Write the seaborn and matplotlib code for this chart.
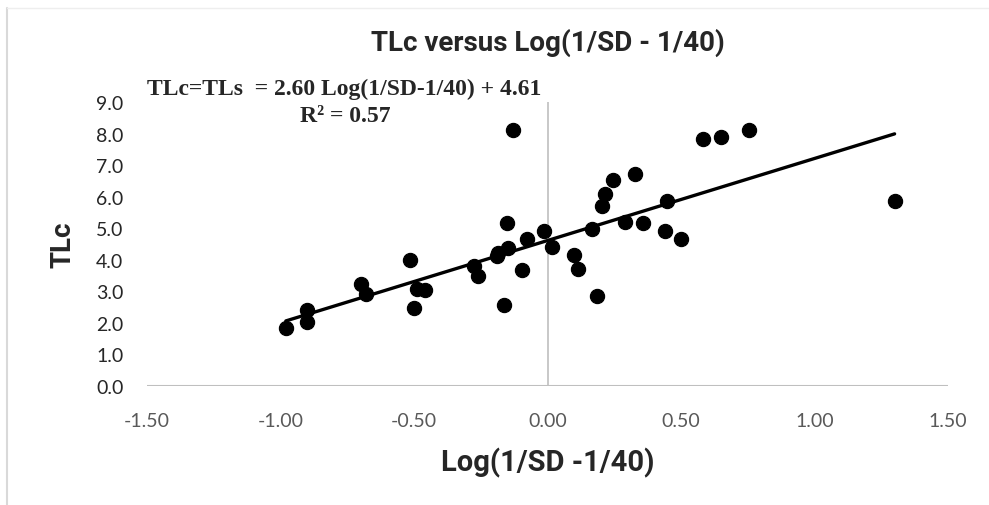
import numpy as np
import pandas as pd
import matplotlib
matplotlib.use("Agg")
import matplotlib.pyplot as plt
import seaborn as sns
from matplotlib.lines import Line2D

# values
log_sd = [-0.98, -0.90, -0.90, -0.70, -0.68, -0.515, -0.50, -0.49, -0.46,
          -0.275, -0.26, -0.19, -0.185, -0.148, -0.152, -0.164, -0.128,
          -0.097, -0.075, -0.013, 0.016, 0.099, 0.113, 0.165, 0.187,
          0.203, 0.217, 0.247, 0.292, 0.327, 0.359, 0.441, 0.449, 0.501,
          0.584, 0.649, 0.755, 1.30]
tlc = [1.84, 2.02, 2.42, 3.23, 2.90, 3.98, 2.47, 3.06, 3.04,
       3.81, 3.48, 4.11, 4.22, 4.36, 5.17, 2.58, 8.10,
       3.67, 4.66, 4.92, 4.42, 4.16, 3.72, 4.97, 2.86,
       5.72, 6.10, 6.54, 5.21, 6.72, 5.17, 4.90, 5.85, 4.66,
       7.84, 7.89, 8.10, 5.85]

slope = 2.60
intercept = 4.61
r_squared = 0.57

x_ticks = [-1.5, -1.0, -0.5, 0.0, 0.5, 1.0, 1.5]
y_ticks = [0, 1, 2, 3, 4, 5, 6, 7, 8, 9]

df = pd.DataFrame({"log_sd": log_sd, "tlc": tlc})
fit = pd.DataFrame({"log_sd": [df["log_sd"].min(), df["log_sd"].max()]})
fit["tlc"] = slope * fit["log_sd"] + intercept

sns.set_style("white")
plt.rcParams["axes.unicode_minus"] = False
plt.rcParams["font.family"] = ["Lato", "DejaVu Sans"]

W, H = 989, 506
fig = plt.figure(figsize=(W / 100, H / 100), dpi=100)
ax = fig.add_axes([147 / W, 1 - 387 / H, (948 - 147) / W, (387 - 103) / H])

ax.axvline(0, color="#bfbfbf", lw=1.2, zorder=0)
ax.axhline(0, color="#bfbfbf", lw=1.5, zorder=0)

sns.lineplot(data=fit, x="log_sd", y="tlc", color="black", lw=2.4, ax=ax, zorder=2)
sns.scatterplot(data=df, x="log_sd", y="tlc", color="black", edgecolor="black",
                s=105, ax=ax, zorder=3)

ax.set_xlim(-1.5, 1.5)
ax.set_ylim(0, 9)
ax.set_xticks(x_ticks)
ax.set_xticklabels([f"{v:.2f}" for v in x_ticks], color="#595959", fontsize=14)
ax.set_yticks(y_ticks)
ax.set_yticklabels([f"{v:.1f}" for v in y_ticks], color="#262626", fontsize=14)
ax.tick_params(axis="both", length=0)
ax.tick_params(axis="x", pad=19)
ax.tick_params(axis="y", pad=17)
for sp in ax.spines.values():
    sp.set_visible(False)

bold_font = ["Roboto", "DejaVu Sans"]
ax.set_xlabel("Log(1/SD -1/40)", fontsize=21, fontweight="bold", family=bold_font)
ax.xaxis.label.set_va("center")
ax.xaxis.set_label_coords(0.5, (387 - 463) / 284)
ax.set_ylabel("TLc", fontsize=20, fontweight="bold", family=bold_font)
ax.yaxis.label.set_va("center")
ax.yaxis.label.set_ha("center")
ax.yaxis.set_label_coords((63 - 147) / 801, 0.5)

fig.text(548 / W, 1 - 43 / H, "TLc versus Log(1/SD - 1/40)", ha="center", va="center",
         fontsize=20, fontweight="bold", family=bold_font)

fig.text(344 / W, 1 - 89 / H, f"TLc=TLs  = {slope:.2f} Log(1/SD-1/40) + {intercept:.2f}",
         ha="center", va="center", fontsize=17, fontweight="bold",
         family=["Liberation Serif", "DejaVu Serif"])
fig.text(345 / W, 1 - 116 / H, f"R² = {r_squared:.2f}",
         ha="center", va="center", fontsize=17, fontweight="bold",
         family=["Liberation Serif", "DejaVu Serif"])

# chart area border (cropped)
fig.add_artist(Line2D([7 / W, 7 / W], [0, 1 - 9 / H], transform=fig.transFigure,
                      color="#d9d9d9", lw=1.5))
fig.add_artist(Line2D([7 / W, 1], [1 - 9 / H, 1 - 9 / H], transform=fig.transFigure,
                      color="#eeeeee", lw=1))

fig.savefig("out.png", dpi=100)
